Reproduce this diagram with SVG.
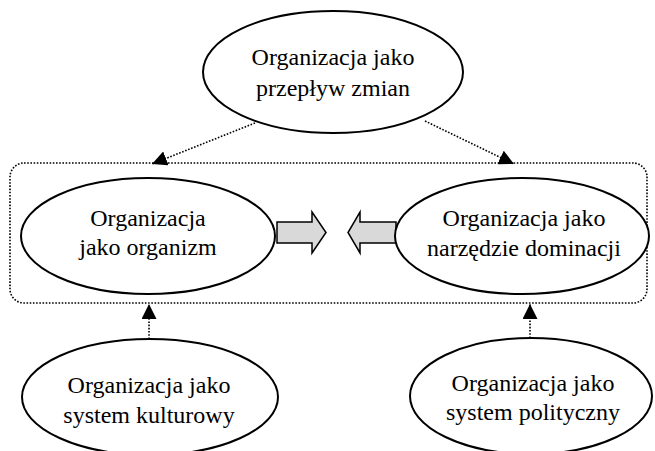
<svg xmlns="http://www.w3.org/2000/svg" width="655" height="451" viewBox="0 0 655 451">
<defs>
<style>
.node ellipse{fill:#fff;stroke:#000;stroke-width:2}
.node text{font-size:24px;fill:#000;text-anchor:middle}
.dot{fill:none;stroke:#000;stroke-width:1.6;stroke-dasharray:1.6 1.6}
.frame{fill:none;stroke:#000;stroke-width:1.6;stroke-dasharray:1.6 1.6}
.block{fill:#d9d9d9;stroke:#000;stroke-width:1.5;stroke-linejoin:miter}
</style>
<marker id="ah" viewBox="0 0 15 15" refX="15" refY="7.5" markerWidth="15" markerHeight="15" markerUnits="userSpaceOnUse" orient="auto">
<path d="M0,0 L15,7.5 L0,15 Z" fill="#000"/>
</marker>
</defs>
<rect id="frame" class="frame" x="10" y="163" width="637" height="140" rx="14" ry="14"/>
<g id="connectors">
<line class="dot" x1="255" y1="123" x2="152" y2="164" marker-end="url(#ah)"/>
<line class="dot" x1="425" y1="121" x2="514" y2="164" marker-end="url(#ah)"/>
<line class="dot" x1="149" y1="339" x2="149" y2="304" marker-end="url(#ah)"/>
<line class="dot" x1="530" y1="338" x2="530" y2="304" marker-end="url(#ah)"/>
<polygon class="block" points="277,222 312,222 312,212 326,232.5 312,253 312,243 277,243"/>
<polygon class="block" points="396,222 360,222 360,212 348,232.5 360,253 360,243 396,243"/>
</g>
<g font-family="Liberation Serif, Times New Roman, serif">
<g id="node-top" class="node">
<ellipse cx="333" cy="72" rx="130" ry="61"/>
<text x="333" y="65">Organizacja jako</text>
<text x="333" y="96">przepływ zmian</text>
</g>
<g id="node-left" class="node">
<ellipse cx="148" cy="236" rx="127" ry="58"/>
<text x="148" y="226">Organizacja</text>
<text x="148" y="255">jako organizm</text>
</g>
<g id="node-right" class="node">
<ellipse cx="522" cy="236" rx="127" ry="58"/>
<text x="524" y="226">Organizacja jako</text>
<text x="524" y="256">narzędzie dominacji</text>
</g>
<g id="node-bottom-left" class="node">
<ellipse cx="150" cy="397" rx="128" ry="58"/>
<text x="149" y="393">Organizacja jako</text>
<text x="149" y="423">system kulturowy</text>
</g>
<g id="node-bottom-right" class="node">
<ellipse cx="531" cy="396" rx="121" ry="58"/>
<text x="533" y="391">Organizacja jako</text>
<text x="533" y="420">system polityczny</text>
</g>
</g>
</svg>
